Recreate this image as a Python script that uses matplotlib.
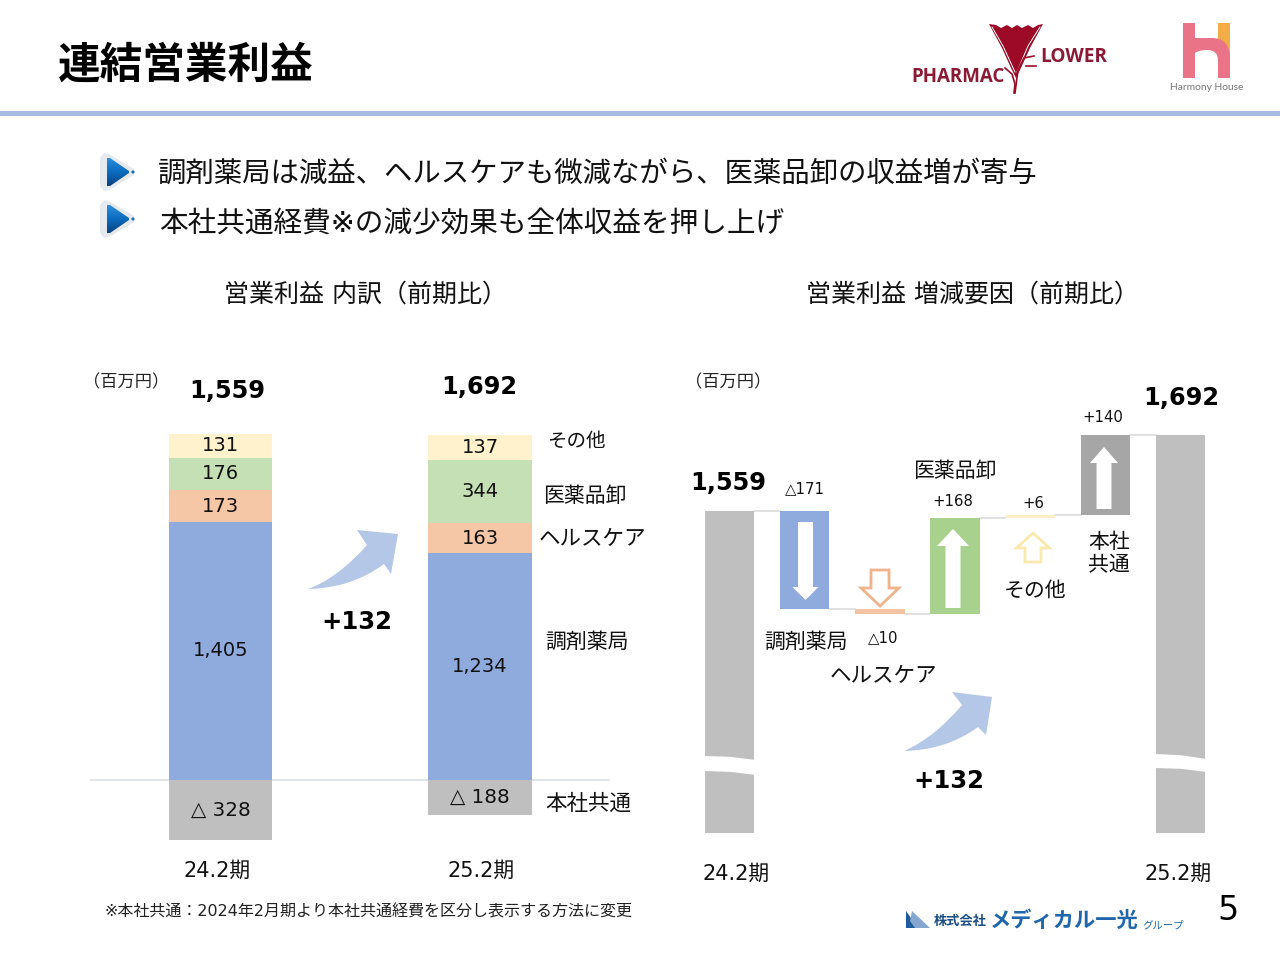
import numpy as np
import matplotlib
matplotlib.use('Agg')
import matplotlib.pyplot as plt
from matplotlib.patches import Polygon, PathPatch, Rectangle, Circle
from matplotlib.path import Path

plt.rcParams['font.family'] = ['DejaVu Sans', 'Noto Sans CJK JP']

### data -----------------------------------------------------------------
periods = ['24.2期', '25.2期']
chozai = [1405, 1234]
health = [173, 163]
oroshi = [176, 344]
sonota = [131, 137]
honsha = [-328, -188]
totals = [1559, 1692]
honsha_labels = ['△ 328', '△ 188']
segment_names = ['その他', '医薬品卸', 'ヘルスケア', '調剤薬局', '本社共通']

wf_start = 1559
wf_end = 1692
wf_changes = [-171, -10, 168, 6, 140]
wf_labels = ['△171', '△10', '+168', '+6', '+140']
increase_label = '+132'

C_BLUE = '#8faadc'
C_PEACH = '#f6c7a6'
C_LGREEN = '#c5e0b4'
C_CREAM = '#fff2cc'
C_GRAY = '#bfbfbf'
wf_colors = [C_BLUE, '#f4c4a2', '#a9d18e', '#fff0c8', '#a6a6a6']
ARROW_BLUE = '#b4c7e7'

W, H = 1280, 960
fig = plt.figure(figsize=(12.8, 9.6), dpi=100, facecolor='white')


def px_axes(x0, y0, x1, y1):
    # axes from pixel box, y measured from the top of the picture
    ax = fig.add_axes([x0 / W, 1 - y1 / H, (x1 - x0) / W, (y1 - y0) / H])
    for sp in ax.spines.values():
        sp.set_visible(False)
    ax.tick_params(length=0)
    ax.set_yticks([])
    ax.set_xticks([])
    ax.patch.set_alpha(0)
    return ax


### left chart: stacked bars ---------------------------------------------
L_BOX = (90, 340, 610, 855)
L_C0, L_PITCH = 220.5, 259.5
L_SCALE = 0.1837   # px per million yen
L_ZERO = 780
axl = px_axes(*L_BOX)
axl.set_xlim((L_BOX[0] - L_C0) / L_PITCH, (L_BOX[2] - L_C0) / L_PITCH)
axl.set_ylim((L_ZERO - L_BOX[3]) / L_SCALE, (L_ZERO - L_BOX[1]) / L_SCALE)
xl = np.arange(len(periods))
bottom = np.zeros(2)
for vals, col in [(chozai, C_BLUE), (health, C_PEACH), (oroshi, C_LGREEN), (sonota, C_CREAM)]:
    axl.bar(xl, vals, width=0.4, bottom=bottom, color=col, zorder=2)
    for i, v in enumerate(vals):
        axl.text(i, bottom[i] + v / 2, f'{v:,}', ha='center', va='center', fontsize=14,
                 color='#111111', zorder=3)
    bottom = bottom + np.array(vals)
axl.bar(xl, honsha, width=0.4, color=C_GRAY, zorder=2)
for i, v in enumerate(honsha):
    axl.text(i, v / 2, honsha_labels[i], ha='center', va='center', fontsize=14.3, color='#111111', zorder=3)
axl.axhline(0, color='#dfe3e6', lw=1.3, zorder=1)

### right chart: waterfall ------------------------------------------------
R_BOX = (690, 400, 1220, 833)
R_C0, R_PITCH = 729.5, 75.17
R_SCALE = 0.571
R_BASE = wf_end - (833 - 435) / R_SCALE   # axis is cut, bars do not start at zero
axr = px_axes(*R_BOX)
axr.set_xlim((R_BOX[0] - R_C0) / R_PITCH, (R_BOX[2] - R_C0) / R_PITCH)
axr.set_ylim(R_BASE, wf_end + (435 - R_BOX[1]) / R_SCALE)
levels = wf_start + np.cumsum([0] + wf_changes)
BW = 0.66
axr.bar([0, len(wf_changes) + 1], [wf_start, wf_end], width=BW, color=C_GRAY, zorder=2)
for i, d in enumerate(wf_changes):
    axr.bar(i + 1, abs(d), width=BW, bottom=min(levels[i], levels[i + 1]), color=wf_colors[i], zorder=2)
for i, lv in enumerate(levels):
    axr.plot([i + BW / 2, i + 1 - BW / 2], [lv, lv], color='#dcdcdc', lw=1.2, zorder=1)

### overlay in pixel coordinates: text, logos, arrows ---------------------
ov = fig.add_axes([0, 0, 1, 1], zorder=5)
ov.set_xlim(0, W)
ov.set_ylim(H, 0)
ov.axis('off')
ov.patch.set_alpha(0)


def label(x, y, s, size, ha='center', weight='normal', color='#111111', **kw):
    ov.text(x, y, s, fontsize=size, ha=ha, va='center', fontweight=weight, color=color, **kw)


def block_arrow(cx, y_tail, y_base, y_tip, shaft_w, head_w, fc, ec='none', lw=0):
    pts = [(cx - shaft_w / 2, y_tail), (cx - shaft_w / 2, y_base), (cx - head_w / 2, y_base), (cx, y_tip),
           (cx + head_w / 2, y_base), (cx + shaft_w / 2, y_base), (cx + shaft_w / 2, y_tail)]
    ov.add_patch(Polygon(pts, closed=True, fc=fc, ec=ec, lw=lw, joinstyle='miter'))


def swoosh(pts, fc=ARROW_BLUE):
    # tail, upper curve ctrl, neck, head corners, lower curve ctrl
    tail, c1, neck, h1, h2, h3, lneck, c2 = pts
    verts = [tail, c1, neck, h1, h2, h3, lneck, c2, tail, tail]
    codes = [Path.MOVETO, Path.CURVE3, Path.CURVE3, Path.LINETO, Path.LINETO, Path.LINETO, Path.LINETO,
             Path.CURVE3, Path.CURVE3, Path.CLOSEPOLY]
    ov.add_patch(PathPatch(Path(verts, codes), fc=fc, ec='none'))


def wave_gap(x0, x1, top0, top1, low0, low1):
    # white cut through a bar, slightly wavy
    xs = np.array([x0 - 1, (x0 + x1) / 2, x1 + 1])
    up = [top0, top0 + 0.45 * (top1 - top0) - 1, top1]
    lw_ = [low0, low0 + 0.45 * (low1 - low0) - 1, low1]
    verts = list(zip(xs, up)) + list(zip(xs[::-1], lw_[::-1]))
    ov.add_patch(Polygon(verts, closed=True, fc='white', ec='none'))


def bullet(cy):
    ov.add_patch(Polygon([(104, cy - 19), (109, cy - 18), (134, cy - 3), (134, cy + 3), (109, cy + 18), (104, cy + 19),
                          (100, cy + 14), (100, cy - 14)], closed=True, fc='#e6e9ee', ec='none'))
    tri = Polygon([(107, cy - 14), (110, cy - 14), (129, cy - 1), (129, cy + 1), (110, cy + 14), (107, cy + 14)],
                  closed=True, fc='none', ec='none')
    ov.add_patch(tri)
    grad = np.linspace(0, 1, 64).reshape(-1, 1)
    cmap = matplotlib.colors.LinearSegmentedColormap.from_list('b', ['#2f8fdc', '#0b6cbf', '#0a3f7c'])
    im = ov.imshow(grad, extent=(106, 130, cy + 15, cy - 15), cmap=cmap, aspect='auto', zorder=3)
    im.set_clip_path(tri)
    ov.add_patch(Circle((133, cy), 1.6, fc='#1a6fb5', ec='none', zorder=3))
    ov.set_xlim(0, W)
    ov.set_ylim(H, 0)


# header
label(58, 66, '連結営業利益', 30.7, ha='left', weight='bold', color='black')
ov.add_patch(Rectangle((0, 111), W, 5, fc='#a8bbdc', ec='none'))

# pharmacy logo
RED = '#9c0a28'
flower = [(989, 24), (996, 25), (1001, 28), (1007, 25), (1012, 28), (1017, 25), (1022, 28), (1028, 25),
          (1033, 28), (1038, 25), (1043, 24), (1030, 48), (1020, 70), (1016, 78), (1011, 68), (1002, 48)]
ov.add_patch(Polygon(flower, closed=True, fc=RED, ec='none'))
ov.plot([992, 1003, 1015], [27, 46, 72], color='white', lw=0.7)
ov.plot([1040, 1028, 1017], [27, 46, 72], color='white', lw=0.7)
ov.plot([1005, 1012, 1015, 1014], [68, 74, 84, 93], color=RED, lw=1.2)
ov.plot([1034, 1024, 1018, 1015], [56, 58, 70, 93], color=RED, lw=1.2)
ov.plot([1026, 1036], [66, 66], color=RED, lw=1.2)
label(911, 77, 'PHARMAC', 13.5, ha='left', weight='bold', color='#8c1a35', family=['Open Sans'])
label(1040, 57, 'LOWER', 13.7, ha='left', weight='bold', color='#8c1a35', family=['Open Sans'])

# harmony house logo
PINK = '#ea7388'
ov.add_patch(Rectangle((1218, 23), 12, 34, fc='#f2ad47', ec='none'))
h_verts = [(1183, 23), (1195, 23), (1195, 38), (1212, 38), (1228, 38), (1230, 55), (1230, 78), (1218, 78),
           (1218, 60), (1218, 50), (1207, 50), (1199, 50), (1195, 53), (1195, 78), (1183, 78), (1183, 23)]
h_codes = [Path.MOVETO, Path.LINETO, Path.LINETO, Path.LINETO, Path.CURVE3, Path.CURVE3, Path.LINETO, Path.LINETO,
           Path.LINETO, Path.CURVE3, Path.CURVE3, Path.CURVE3, Path.CURVE3, Path.LINETO, Path.LINETO, Path.CLOSEPOLY]
ov.add_patch(PathPatch(Path(h_verts, h_codes), fc=PINK, ec='none'))
label(1207, 87, 'Harmony House', 7.4, color='#777777', family=['Lato'])

# bullets
bullet(172)
bullet(219)
label(158, 174, '調剤薬局は減益、ヘルスケアも微減ながら、医薬品卸の収益増が寄与', 20.47, ha='left')
label(159, 224, '本社共通経費※の減少効果も全体収益を押し上げ', 20.65, ha='left')

# chart titles
label(365, 295, '営業利益 内訳（前期比）', 18)
label(972, 295, '営業利益 増減要因（前期比）', 18)

# left chart labels
label(126.5, 382, '（百万円）', 12.4, color='#222222')
label(227, 391, f'{totals[0]:,}', 17.3, weight='bold', color='black')
label(479, 387, f'{totals[1]:,}', 17.3, weight='bold', color='black')
label(576, 441, segment_names[0], 14)
label(585, 496, segment_names[1], 15)
label(592, 539, segment_names[2], 15.5)
label(587, 642, segment_names[3], 15)
label(588, 804, segment_names[4], 15.5)
swoosh([(308, 589), (338, 578), (367, 545), (357, 530), (398, 534), (391, 574), (384, 564), (352, 588)])
label(357, 622, increase_label, 17.5, weight='bold', color='black')
label(217, 871, periods[0], 15)
label(481, 871, periods[1], 15)
label(368, 912, '※本社共通：2024年2月期より本社共通経費を区分し表示する方法に変更', 11.55, color='#222222')

# right chart labels
label(728, 382, '（百万円）', 12.4, color='#222222')
label(728, 483, f'{wf_start:,}', 17.3, weight='bold', color='black')
label(1181, 398, f'{wf_end:,}', 17.3, weight='bold', color='black')
label(805, 489, wf_labels[0], 10.7)
label(883, 638, wf_labels[1], 10.7)
label(953, 501, wf_labels[2], 10.7)
label(1033, 504, wf_labels[3], 10.7)
label(1103, 417, wf_labels[4], 10.7)
label(806, 642, segment_names[3], 15)
label(883, 676, segment_names[2], 15.5)
label(955, 471, segment_names[1], 15)
label(1035, 591, segment_names[0], 15)
label(1109, 554, '本社\n共通', 15, linespacing=1.2)
label(736, 874, periods[0], 15)
label(1178, 874, periods[1], 15)
block_arrow(805.5, 522, 587, 600, 15, 26, 'white')
block_arrow(880, 570, 588, 606, 18, 38, 'white', ec='#f0b48c', lw=2)
block_arrow(953, 608, 546, 529, 15, 32, 'white')
block_arrow(1033, 562, 548, 533, 16, 33, 'white', ec='#fbe8ad', lw=2)
block_arrow(1104, 509, 463, 447, 15, 28, 'white')
wave_gap(705, 755, 756, 760, 771, 775)
wave_gap(1156, 1206, 754, 759, 768, 772)
swoosh([(904, 751), (934, 738), (962, 705), (952, 692), (992, 697), (986, 735), (978, 727), (947, 750)])
label(949, 781, increase_label, 17.5, weight='bold', color='black')

# company logo and page number
BLUE_D = '#1f5b9c'
ov.add_patch(Polygon([(906, 928), (906, 911), (918, 928)], closed=True, fc=BLUE_D, ec='none'))
ov.add_patch(Polygon([(912, 911), (930, 928), (915, 928), (910, 921)], closed=True, fc='#86a7cf', ec='none'))
label(934, 921, '株式会社', 9.5, ha='left', weight='bold', color='#1c4f86')
label(990, 921, 'メディカル一光', 15.3, ha='left', weight='bold', color='#1f66ad')
label(1142, 925, 'グループ', 7.5, ha='left', color='#1f66ad')
label(1228, 910, '5', 24, color='black')

fig.savefig('out.png', dpi=100, facecolor='white')
